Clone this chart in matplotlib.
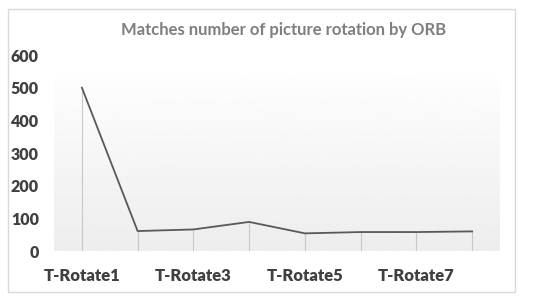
import numpy as np
import matplotlib.pyplot as plt
from matplotlib.patches import Rectangle

# data
categories = ['T-Rotate1', 'T-Rotate2', 'T-Rotate3', 'T-Rotate4',
              'T-Rotate5', 'T-Rotate6', 'T-Rotate7', 'T-Rotate8']
matches = [500, 61, 66, 89, 54, 58, 58, 60]
y_ticks = [0, 100, 200, 300, 400, 500, 600]

plt.rcParams['font.family'] = ['Lato', 'DejaVu Sans']

W, H = 550, 301
fig = plt.figure(figsize=(W / 100, H / 100), dpi=100)

# chart border
fig.patches.append(Rectangle((8 / W, 1 - 292 / H), 507 / W, 283 / H,
                             transform=fig.transFigure, fill=False,
                             edgecolor='#d9d9d9', linewidth=1.0))

ax = fig.add_axes([54 / W, 1 - 251 / H, 446 / W, 196 / H])
x = np.arange(len(categories))

# plot area background: soft vertical gradient
grad = np.linspace(0.93, 1.0, 256).reshape(-1, 1)
ax.imshow(grad, extent=(-0.5, len(categories) - 0.5, 0, 600), origin='lower',
          aspect='auto', cmap='gray', vmin=0, vmax=1, zorder=0)
ax.axhspan(530, 600, color='white', zorder=0.5)

ax.vlines(x, 0, matches, color='#c8c8c8', linewidth=0.8, zorder=1)
ax.plot(x, matches, color='#595959', linewidth=1.3, zorder=2)

ax.set_xlim(-0.5, len(categories) - 0.5)
ax.set_ylim(0, 600)
ax.set_yticks(y_ticks)
ax.set_yticklabels([str(v) for v in y_ticks], fontsize=11.5, fontweight='heavy', color='#404040')
ax.set_xticks(x[::2])
ax.set_xticklabels(categories[::2], fontsize=12, fontweight='heavy', color='#404040')
ax.tick_params(length=0)
ax.tick_params(axis='x', pad=12)
ax.tick_params(axis='y', pad=11)
for s in ax.spines.values():
    s.set_visible(False)

fig.text(284 / W, 1 - 30 / H, 'Matches number of picture rotation by ORB',
         ha='center', va='center', fontsize=12, fontweight='bold', color='#7f7f7f')

fig.savefig('out.png', dpi=100)
